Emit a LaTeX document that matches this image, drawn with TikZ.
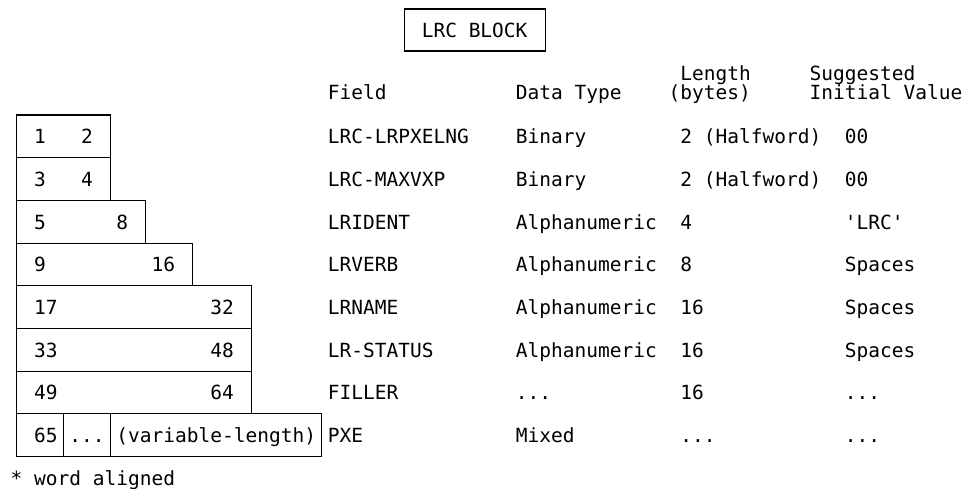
\documentclass[tikz,border=0pt]{standalone}
\usepackage{fontspec}
\setmonofont{DejaVu Sans Mono}
\newcommand{\tabfont}{\ttfamily\fontsize{19.5}{21}\selectfont}
\newcommand{\tdots}{...}
\begin{document}
\begin{tikzpicture}[x=11.75pt,y=-1pt,
    txt/.style={font=\tabfont, inner sep=0pt, anchor=base west},
    rule/.style={line width=1.1pt}]
\useasboundingbox (-2.894,0) rectangle (79.319,489);

% title
\node[draw, rule, font=\tabfont, inner sep=0pt, minimum width=141pt, minimum height=42pt] (title) at (37.5,30) {LRC BLOCK};

% column heads
\node[txt] (hlen)  at (55,81)  {Length};
\node[txt] (hbyt)  at (54,100) {(bytes)};
\node[txt] (hsug)  at (66,81)  {Suggested};
\node[txt] (hini)  at (66,100) {Initial Value};
\node[txt] (hfld)  at (25,100) {Field};
\node[txt] (htyp)  at (41,100) {Data Type};

% one row per field
\foreach \lo/\hi/\hc/\re/\fld/\typ/\len/\ini [count=\n from 0] in {
    1/2/4/6.5/LRC-LRPXELNG/Binary/2 (Halfword)/00,
    3/4/4/6.5/LRC-MAXVXP/Binary/2 (Halfword)/00,
    5/8/7/9.5/LRIDENT/Alphanumeric/4/'LRC',
    9/16/10/13.5/LRVERB/Alphanumeric/8/Spaces,
    17/32/15/18.5/LRNAME/Alphanumeric/16/Spaces,
    33/48/15/18.5/LR-STATUS/Alphanumeric/16/Spaces,
    49/64/15/18.5/FILLER/\tdots/16/\tdots}{
  \pgfmathsetmacro\rt{115+42.7*\n}
  \draw[rule] (-1.5,\rt) rectangle (\re,\rt+42.7);
  \node[txt] (lo\n)  at (0,\rt+28.65)   {\lo};
  \node[txt] (hi\n)  at (\hc,\rt+28.65) {\hi};
  \node[txt] (fld\n) at (25,\rt+28.65)  {\fld};
  \node[txt] (typ\n) at (41,\rt+28.65)  {\typ};
  \node[txt] (len\n) at (55,\rt+28.65)  {\len};
  \node[txt] (ini\n) at (69,\rt+28.65)  {\ini};
}

% variable part
\draw[rule] (-1.5,413.9) rectangle (24.5,456.6);
\draw[rule] (2.5,413.9) -- (2.5,456.6);
\draw[rule] (6.5,413.9) -- (6.5,456.6);
\node[txt] (lo7)  at (0,442.55)  {65};
\node[txt] (dots) at (3,442.55)  {...};
\node[txt] (var)  at (7,442.55)  {(variable-length)};
\node[txt] (fld7) at (25,442.55) {PXE};
\node[txt] (typ7) at (41,442.55) {Mixed};
\node[txt] (len7) at (55,442.55) {...};
\node[txt] (ini7) at (69,442.55) {...};

\node[txt] (note) at (-2,485) {* word aligned};
\end{tikzpicture}
\end{document}
